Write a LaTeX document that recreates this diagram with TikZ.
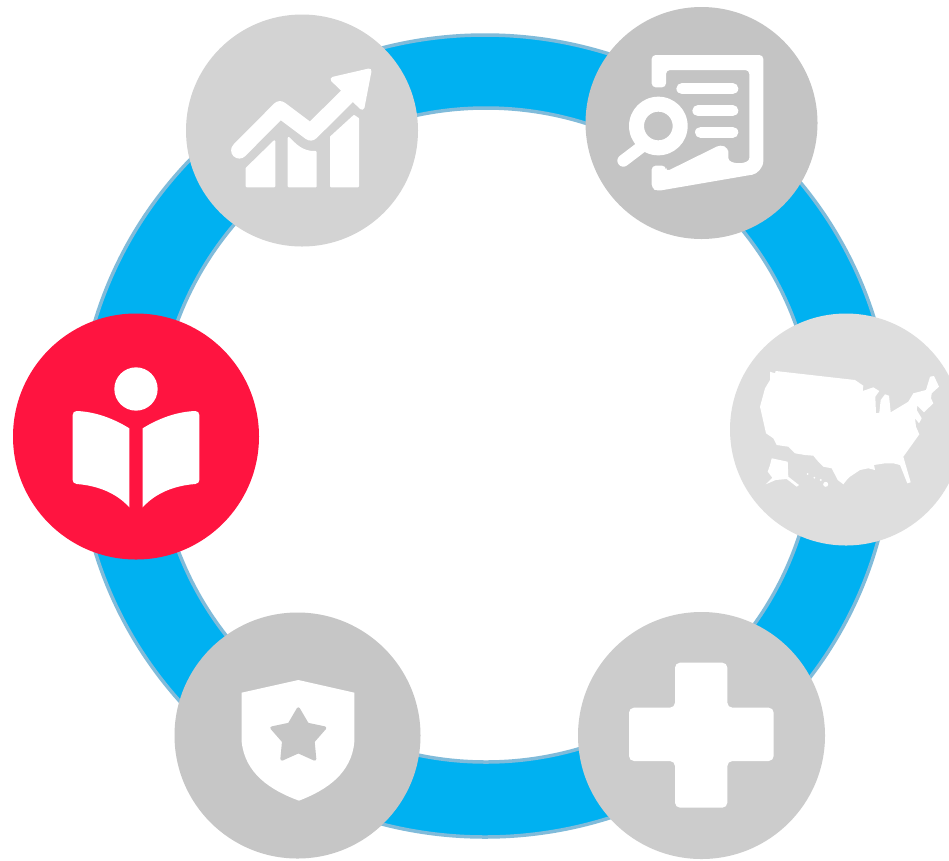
\documentclass[tikz,border=0pt]{standalone}
\definecolor{ringblue}{HTML}{00B1F1}
\definecolor{ringedge}{HTML}{80BBDA}
\definecolor{chartgray}{HTML}{D3D3D3}
\definecolor{reportgray}{HTML}{C4C4C4}
\definecolor{mapgray}{HTML}{DEDEDE}
\definecolor{shieldgray}{HTML}{C6C6C6}
\definecolor{plusgray}{HTML}{CCCCCC}
\definecolor{bookred}{HTML}{FF1440}
\tikzset{
  disc/.style={circle,inner sep=0pt,outer sep=0pt,draw=none},
  glyph/.style={fill=white,draw=none},
  roundglyph/.style={fill=white,draw=white,line join=round,line width=3pt},
  bar/.style={draw=white,line width=#1,line cap=round,line join=round},
}
\begin{document}
\begin{tikzpicture}[x=1pt,y=-1pt]
\useasboundingbox (0,0) rectangle (949,860);
\clip (0,0) rectangle (949,860);
\fill[white] (0,0) rectangle (949,860);
% ring
\path[fill=ringblue,even odd rule,draw=ringedge,line width=3.5pt]
  (485,436) ellipse[x radius=407pt,y radius=401pt] (486,435) ellipse[x radius=329pt,y radius=327pt];
% discs
\node[disc,fill=chartgray,minimum size=232pt] (chart) at (302,130.5) {};
\node[disc,fill=reportgray,minimum size=232pt] (report) at (701.5,123) {};
\node[disc,fill=mapgray,minimum size=232pt] (usmap) at (846,429.5) {};
\node[disc,fill=bookred,minimum size=246pt] (book) at (136,436.5) {};
\node[disc,fill=shieldgray,minimum size=246pt] (shield) at (297.5,735.5) {};
\node[disc,fill=plusgray,minimum size=247pt] (plus) at (701.5,735.5) {};
% chart icon
\begin{scope}[shift={(180,0)},scale=1/3]
  \draw[bar=16.5pt] (178,451) -- (300,328) -- (392,397) -- (505,285);
  \path[roundglyph,line width=5pt] (459,238) -- (567,213) -- (546,322) -- cycle;
  \path[roundglyph,line width=2pt] (200,505) -- (283,424) -- (283,559) -- (200,559) -- cycle;
  \path[roundglyph,line width=2pt] (326,414) .. controls (345,432) and (365,458) .. (407,456) -- (407,559) -- (326,559) -- cycle;
  \path[roundglyph,line width=2pt] (453,411) -- (522,348) -- (534,356) -- (534,559) -- (453,559) -- cycle;
\end{scope}
% report icon
\begin{scope}[shift={(580,0)},scale=1/3]
  \path[glyph,rounded corners=4pt] (215,165) -- (550,165) -- (550,470)
    .. controls (550,505) and (530,522) .. (505,526) -- (232,573)
    -- (215,565) -- (215,497) -- (258,497) -- (258,515) -- (422,434) -- (445,445) -- (445,462)
    .. controls (445,495) and (508,495) .. (508,462)
    -- (508,210) -- (258,210) -- (258,262) -- (215,262) -- cycle;
  \draw[bar=11.3pt] (306,266) -- (458,266);
  \draw[bar=11.3pt] (354,332) -- (458,332);
  \draw[bar=11.3pt] (362,397) -- (458,397);
  \fill[reportgray] (235,378) circle[radius=100pt];
  \path[glyph,even odd rule] (235,378) circle[radius=88pt] (235,378) circle[radius=43pt];
  \draw[bar=12pt] (188,438) -- (130,482);
\end{scope}
% US map
\path[glyph] (770,371.7) -- (775,373.3) -- (775.7,371) -- (855,380) -- (863.3,385.7) -- (862.7,391)
  -- (873.3,387.3) -- (879.3,391) -- (875.3,396.7) -- (876,413.3) -- (879.3,412.7) -- (880.7,400)
  -- (885,394.3) -- (889,395.7) -- (890.7,412.3) -- (900,406.7) -- (908.3,401.7) -- (913.3,393.3)
  -- (926,390) -- (930,376.7) -- (934,376) -- (939,386.7) -- (931.7,393.3) -- (931,398.3) -- (933.3,403.3)
  -- (924,412.3) -- (917.3,405.7) -- (916.7,410) -- (921.7,418.3) -- (919,423.3) -- (915,418.3)
  -- (916,426.7) -- (919.3,434.3) -- (911.7,445) -- (903.3,456.7) -- (910.7,482.3) -- (907.3,483.3)
  -- (900,465) -- (893.3,463.3) -- (885,463.3) -- (874,465) -- (875,470) -- (868.3,468.3) -- (860,470)
  -- (850,476.7) -- (846.7,480) -- (843.3,484.3) -- (837.7,480) -- (831.7,468.3) -- (823.3,466.7)
  -- (818.3,461.7) -- (813.3,455.7) -- (805,455) -- (795,453.3) -- (788.3,446.7) -- (776.7,445)
  -- (773.3,438.3) -- (766,433.3) -- (760,406.7) -- (765,388.3) -- (770,380) -- cycle;
\path[glyph] (771.7,458.3) -- (787.7,461.7) -- (788.3,476.7) -- (799,485) -- (796.7,486.7) -- (786.7,479)
  -- (775.7,480) -- (765.7,484.3) -- (772.3,477.7) -- (767.7,471.7) -- (770,465) -- cycle;
\path[glyph] (807.7,474) circle[radius=1pt] (814.3,477.7) circle[radius=1pt] (820.7,480) circle[radius=1.2pt]
  (825.7,484.3) circle[radius=2.5pt];
% book icon
\begin{scope}[shift={(5,310)},scale=1/3]
  \fill[white] (393,237) circle[radius=65pt];
  \path[glyph] (215,303) .. controls (270,305) and (325,325) .. (373,355) -- (373,592)
    .. controls (335,550) and (280,527) .. (215,522) .. controls (207,521) and (203,516) .. (203,510)
    -- (203,315) .. controls (203,308) and (208,303) .. (215,303) -- cycle;
  \path[glyph] (571,303) .. controls (516,305) and (461,325) .. (413,355) -- (413,592)
    .. controls (451,550) and (506,527) .. (571,522) .. controls (579,521) and (583,516) .. (583,510)
    -- (583,315) .. controls (583,308) and (578,303) .. (571,303) -- cycle;
\end{scope}
% shield icon
\begin{scope}[shift={(170,605)},scale=1/3]
  \path[glyph] (215,263) -- (385,225) -- (553,263) -- (553,410)
    .. controls (545,505) and (470,555) .. (387,587)
    .. controls (300,555) and (225,505) .. (215,410) -- cycle;
  \path[fill=shieldgray,draw=shieldgray,line width=3.3pt,line join=round]
    (385,312) -- (412,358) -- (464,369) -- (429,409) -- (434,462) -- (385,440)
    -- (336,462) -- (341,409) -- (306,369) -- (358,358) -- cycle;
\end{scope}
% plus icon
\begin{scope}[shift={(575,605)},scale=1/3]
  \path[glyph,rounded corners=5pt] (300,173) -- (457,173) -- (457,308) -- (596,308) -- (596,468)
    -- (457,468) -- (457,608) -- (300,608) -- (300,468) -- (162,468) -- (162,308) -- (300,308) -- cycle;
\end{scope}
\end{tikzpicture}
\end{document}
